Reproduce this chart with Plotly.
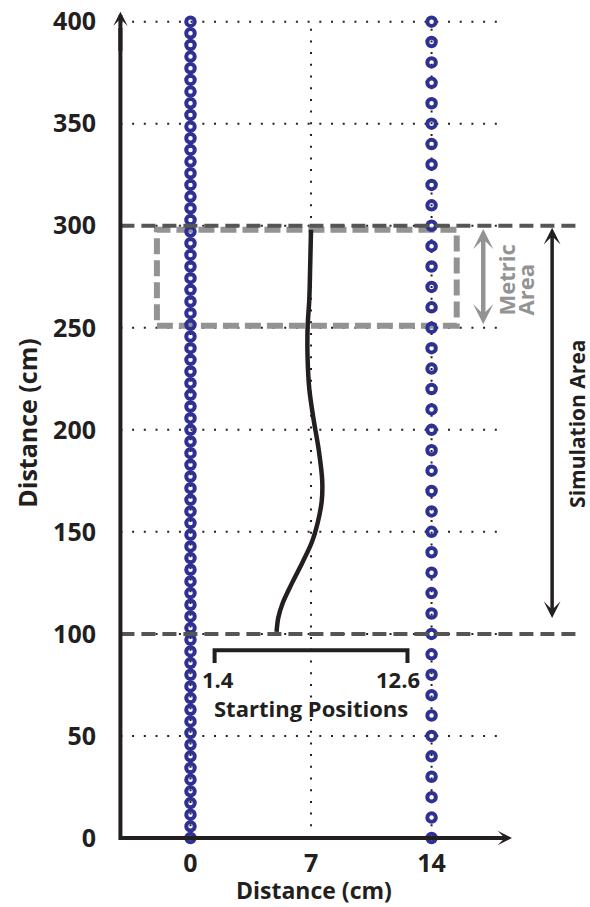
import plotly.graph_objects as go

# ---------------- data ----------------
x_tick_vals = [0, 7, 14]
y_tick_vals = [0, 50, 100, 150, 200, 250, 300, 350, 400]

left_wall_x = 0
left_wall_y = [
    0, 5.71, 11.43, 17.14, 22.86, 28.57, 34.29,
    40, 45.71, 51.43, 57.14, 62.86, 68.57, 74.29,
    80, 85.71, 91.43, 97.14, 102.86, 108.57, 114.29,
    120, 125.71, 131.43, 137.14, 142.86, 148.57, 154.29,
    160, 165.71, 171.43, 177.14, 182.86, 188.57, 194.29,
    200, 205.71, 211.43, 217.14, 222.86, 228.57, 234.29,
    240, 245.71, 251.43, 257.14, 262.86, 268.57, 274.29,
    280, 285.71, 291.43, 297.14, 302.86, 308.57, 314.29,
    320, 325.71, 331.43, 337.14, 342.86, 348.57, 354.29,
    360, 365.71, 371.43, 377.14, 382.86, 388.57, 394.29,
    400,
]
right_wall_x = 14
right_wall_y = [0, 10, 20, 30, 40, 50, 60, 70, 80, 90, 100, 110, 120, 130,
                140, 150, 160, 170, 180, 190, 200, 210, 220, 230, 240, 250,
                260, 270, 280, 290, 300, 310, 320, 330, 340, 350, 360, 370,
                380, 390, 400]

path_y = [101, 108, 115, 125, 135, 145, 155, 165, 175, 190, 205, 220, 235,
          250, 264, 280, 298]
path_x = [5.0, 5.1, 5.35, 5.9, 6.5, 7.05, 7.4, 7.62, 7.65, 7.45, 7.15, 6.9,
          6.8, 6.8, 6.9, 6.95, 7.0]

sim_bounds = [100, 300]
metric_bounds = [250, 300]
start_positions = [1.4, 12.6]

# ---------------- style ----------------
FONT = "Open Sans"
INK = "#231F20"
BLUE = "#2E3192"
GREY = "#939393"
DARK = "#555555"

x_axis_pos = -4.07
x_axis_end = 18.67
y_axis_end = 404.9
grid_end = 18.0
dash_end = 22.7

fig = go.Figure()

wall_marker = dict(symbol="circle-open", size=8.5, color=BLUE, line=dict(width=4, color=BLUE))
fig.add_trace(go.Scatter(
    x=[left_wall_x] * len(left_wall_y), y=left_wall_y, mode="markers",
    marker=wall_marker, cliponaxis=False, hoverinfo="skip"))
fig.add_trace(go.Scatter(
    x=[right_wall_x] * len(right_wall_y), y=right_wall_y, mode="markers",
    marker=wall_marker, cliponaxis=False, hoverinfo="skip"))

# trajectory
fig.add_trace(go.Scatter(
    x=path_x, y=path_y, mode="lines",
    line=dict(color=INK, width=4.5, shape="spline", smoothing=1.0),
    hoverinfo="skip"))

shapes = []
# dotted grid
for yv in y_tick_vals[1:]:
    shapes.append(dict(type="line", xref="x", yref="y", x0=x_axis_pos, x1=grid_end,
                       y0=yv, y1=yv, layer="below",
                       line=dict(color=INK, width=2, dash="2px,9.7px")))
for xv in x_tick_vals:
    shapes.append(dict(type="line", xref="x", yref="y", x0=xv, x1=xv,
                       y0=0, y1=400, layer="below",
                       line=dict(color=INK, width=2, dash="2px,9.7px")))
# metric area rectangle
shapes.append(dict(type="rect", xref="x", yref="y", x0=-1.95, x1=15.46,
                   y0=metric_bounds[0] + 1, y1=metric_bounds[1] - 2, layer="below",
                   line=dict(color=GREY, width=6, dash="16px,6px")))
# simulation bounds
for yv in sim_bounds:
    shapes.append(dict(type="line", xref="x", yref="y", x0=x_axis_pos, x1=dash_end,
                       y0=yv, y1=yv, layer="above",
                       line=dict(color=DARK, width=4, dash="14px,7px")))
# axes (L-shape)
shapes.append(dict(type="path", xref="x", yref="y", layer="above",
                   path=f"M {x_axis_pos},{y_axis_end - 8} L {x_axis_pos},0 L {x_axis_end - 0.5},0",
                   line=dict(color=INK, width=4)))
# starting positions bracket
shapes.append(dict(type="path", xref="x", yref="y", layer="above",
                   path=f"M {start_positions[0]},85.7 L {start_positions[0]},92 "
                        f"L {start_positions[1]},92 L {start_positions[1]},85.7",
                   line=dict(color=INK, width=4)))

annotations = []
# axis arrow heads
annotations.append(dict(x=x_axis_pos, y=y_axis_end, ax=x_axis_pos, ay=y_axis_end - 20,
                        xref="x", yref="y", axref="x", ayref="y", text="",
                        showarrow=True, arrowhead=3, arrowsize=0.6, arrowwidth=4,
                        arrowcolor=INK, standoff=0))
annotations.append(dict(x=x_axis_end, y=0, ax=x_axis_end - 1.5, ay=0,
                        xref="x", yref="y", axref="x", ayref="y", text="",
                        showarrow=True, arrowhead=3, arrowsize=0.6, arrowwidth=4,
                        arrowcolor=INK, standoff=0))
# simulation area double arrow
annotations.append(dict(x=21.0, y=299, ax=21.0, ay=107,
                        xref="x", yref="y", axref="x", ayref="y", text="",
                        showarrow=True, arrowhead=3, arrowside="end+start",
                        arrowsize=0.8, arrowwidth=3.5, arrowcolor=INK,
                        standoff=0, startstandoff=0))
annotations.append(dict(x=22.4, y=203, xref="x", yref="y", text="Simulation Area",
                        showarrow=False, textangle=-90,
                        font=dict(family=FONT, size=21, color=INK, weight="bold")))
# metric area double arrow
annotations.append(dict(x=17.0, y=298.4, ax=17.0, ay=251,
                        xref="x", yref="y", axref="x", ayref="y", text="",
                        showarrow=True, arrowhead=3, arrowside="end+start",
                        arrowsize=0.75, arrowwidth=4.5, arrowcolor=GREY,
                        standoff=0, startstandoff=0))
annotations.append(dict(x=18.35, y=255, xref="x", yref="y", text="Metric",
                        showarrow=False, textangle=-90, yanchor="bottom",
                        font=dict(family=FONT, size=22, color=GREY, weight="bold")))
annotations.append(dict(x=19.45, y=255, xref="x", yref="y", text="Area",
                        showarrow=False, textangle=-90, yanchor="bottom",
                        font=dict(family=FONT, size=22, color=GREY, weight="bold")))
# starting positions labels
annotations.append(dict(x=0.55, y=78, xref="x", yref="y", text=str(start_positions[0]),
                        showarrow=False, xanchor="left",
                        font=dict(family=FONT, size=22, color=INK, weight="bold")))
annotations.append(dict(x=13.44, y=78, xref="x", yref="y", text=str(start_positions[1]),
                        showarrow=False, xanchor="right",
                        font=dict(family=FONT, size=22, color=INK, weight="bold")))
annotations.append(dict(x=7.0, y=63.5, xref="x", yref="y", text="Starting Positions",
                        showarrow=False,
                        font=dict(family=FONT, size=22, color=INK, weight="bold")))
# x-axis title (placed beneath the tick labels)
annotations.append(dict(x=7.2, y=-61 / 846, xref="x", yref="paper",
                        text="Distance (cm)", showarrow=False, yanchor="bottom",
                        borderpad=0,
                        font=dict(family=FONT, size=23, color=INK, weight="bold")))

tickfont = dict(family=FONT, size=25, color=INK, weight="bold")
titlefont = dict(family=FONT, size=25, color=INK, weight="bold")

fig.update_layout(
    width=590, height=907,
    margin=dict(l=115, r=0, t=0, b=61, autoexpand=False),
    paper_bgcolor="white", plot_bgcolor="white",
    showlegend=False,
    shapes=shapes, annotations=annotations,
    xaxis=dict(range=[-4.384, 23.2], showgrid=False, zeroline=False, showline=False,
               automargin=True,
               tickvals=x_tick_vals, ticktext=[str(v) for v in x_tick_vals],
               ticks="", ticklabelstandoff=0, tickfont=tickfont),
    yaxis=dict(range=[-3.92, 410.6], showgrid=False, zeroline=False, showline=False,
               automargin=True,
               tickvals=y_tick_vals, ticktext=[str(v) for v in y_tick_vals],
               ticks="", ticklabelstandoff=18, tickfont=tickfont,
               title=dict(text="Distance (cm)", font=titlefont, standoff=8)),
)

fig.write_html("out.html", config={"displayModeBar": False},
               post_script="document.body.style.margin='0';document.body.style.overflow='hidden';")
